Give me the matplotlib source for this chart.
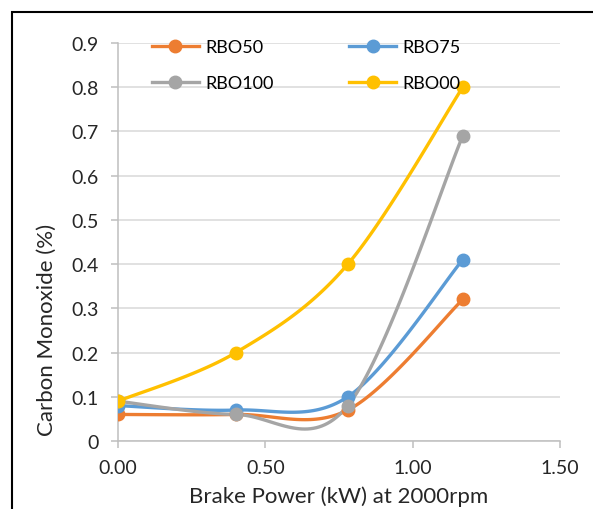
import numpy as np
import matplotlib
matplotlib.use("Agg")
import matplotlib.pyplot as plt
from matplotlib.patches import Rectangle

plt.rcParams['font.family'] = ['Lato', 'DejaVu Sans']

brake_power = [0.0, 0.40, 0.78, 1.17]
rbo50 = [0.06, 0.06, 0.07, 0.32]
rbo75 = [0.08, 0.07, 0.10, 0.41]
rbo100 = [0.09, 0.06, 0.08, 0.69]
rbo00 = [0.09, 0.20, 0.40, 0.80]
series_names = ["RBO50", "RBO75", "RBO100", "RBO00"]
colors = ["#ED7D31", "#5B9BD5", "#A5A5A5", "#FFC000"]
y_ticks = [0, 0.1, 0.2, 0.3, 0.4, 0.5, 0.6, 0.7, 0.8, 0.9]
y_tick_labels = ["0", "0.1", "0.2", "0.3", "0.4", "0.5", "0.6", "0.7", "0.8", "0.9"]
x_ticks = [0.0, 0.5, 1.0, 1.5]
x_tick_labels = ["0.00", "0.50", "1.00", "1.50"]


def smooth(xs, ys, n=40):
    P = np.column_stack([xs, ys]).astype(float)
    m = len(P)
    out = []
    for i in range(m - 1):
        p0 = P[max(i - 1, 0)]
        p1 = P[i]
        p2 = P[i + 1]
        p3 = P[min(i + 2, m - 1)]
        c1 = p1 + (p2 - p0) / 6.0
        c2 = p2 - (p3 - p1) / 6.0
        t = np.linspace(0, 1, n)[:, None]
        seg = ((1 - t) ** 3) * p1 + 3 * ((1 - t) ** 2) * t * c1 + 3 * (1 - t) * t ** 2 * c2 + t ** 3 * p2
        if i > 0:
            seg = seg[1:]
        out.append(seg)
    c = np.vstack(out)
    return c[:, 0], c[:, 1]


fig = plt.figure(figsize=(5.93, 5.10), dpi=100)
ax = fig.add_axes([118 / 593, 1 - 442 / 510, (560 - 118) / 593, (442 - 44) / 510])

handles = {}
for name, ys, col in zip(series_names, [rbo50, rbo75, rbo100, rbo00], colors):
    sx, sy = smooth(brake_power, ys)
    ax.plot(sx, sy, color=col, lw=2.4, solid_capstyle='round', zorder=3)
    ax.plot(brake_power, ys, 'o', color=col, ms=9, zorder=4)
    h, = ax.plot([], [], '-o', color=col, lw=2.4, ms=9, label=name)
    handles[name] = h

ax.set_xlim(0, 1.5)
ax.set_ylim(0, 0.9)
ax.set_xticks(x_ticks)
ax.set_xticklabels(x_tick_labels)
ax.set_yticks(y_ticks)
ax.set_yticklabels(y_tick_labels)
ax.yaxis.grid(True, color="#D9D9D9", lw=1.1, zorder=0)
ax.xaxis.grid(False)
for s in ['top', 'right']:
    ax.spines[s].set_visible(False)
for s in ['left', 'bottom']:
    ax.spines[s].set_color("#BFBFBF")
    ax.spines[s].set_linewidth(1.1)
ax.tick_params(axis='both', colors="#BFBFBF", labelcolor="#262626", labelsize=14,
               length=5, width=1.1)
ax.tick_params(axis='y', pad=9)
ax.tick_params(axis='x', pad=8)
ax.set_xlabel("Brake Power (kW) at 2000rpm", fontsize=16, color="#262626", va='center')
ax.set_ylabel("Carbon Monoxide (%)", fontsize=16, color="#262626", va='center')
ax.xaxis.set_label_coords(0.5, (442 - 497) / 398)
ax.yaxis.set_label_coords((47 - 118) / 442, (442 - 330) / 398)

order = ["RBO50", "RBO100", "RBO75", "RBO00"]
leg = ax.legend([handles[k] for k in order], order, ncol=2, loc='upper left',
                bbox_to_anchor=(0.04, 1.05), frameon=False,
                fontsize=13, handlelength=2.6, columnspacing=4.2, labelspacing=1.1,
                handletextpad=0.35)

fig.patches.append(Rectangle((12 / 593, -0.1), 1.2, 1 - 13 / 510 + 0.1, transform=fig.transFigure,
                             fill=False, edgecolor='black', lw=1.5))

fig.savefig("out.png", dpi=100)
